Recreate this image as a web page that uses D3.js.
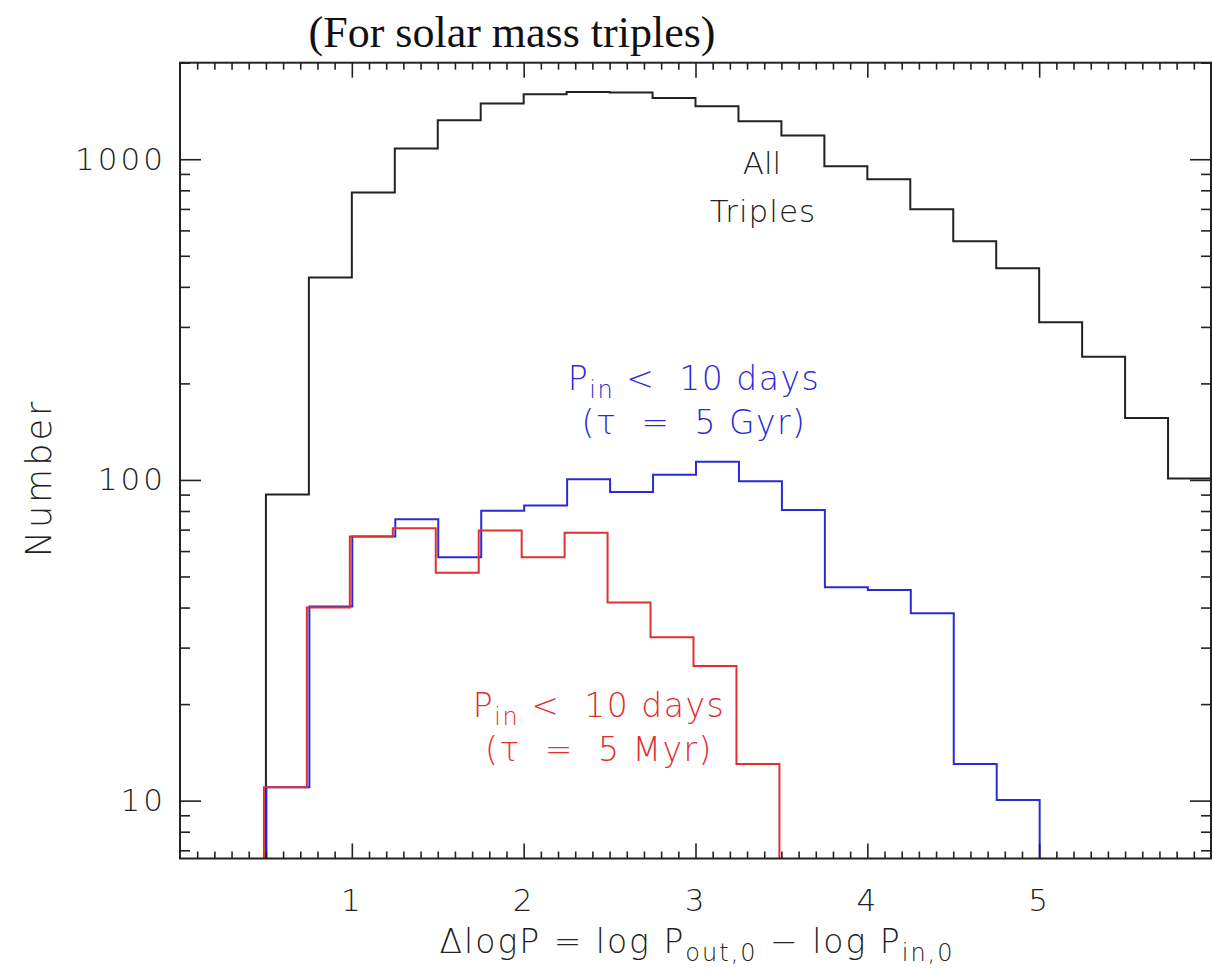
<!DOCTYPE html>
<html>
<head>
<meta charset="utf-8">
<script src="https://cdn.jsdelivr.net/npm/d3@7"></script>
<style>
  body { margin: 0; background: #fff; }
  .lab { font-family: "DejaVu Sans", sans-serif; font-weight: 200; }
</style>
</head>
<body>
<svg id="chart" width="1213" height="971"></svg>
<script>
// bin edges of the histograms (delta log P)
var binEdges = [0.5, 0.75, 1.0, 1.25, 1.5, 1.75, 2.0, 2.25, 2.5, 2.75, 3.0, 3.25,
                3.5, 3.75, 4.0, 4.25, 4.5, 4.75, 5.0, 5.25, 5.5, 5.75, 6.0];

// counts per bin
var allTriples = [90, 428, 787, 1080, 1324, 1492, 1595, 1622, 1614, 1552, 1463,
                  1313, 1186, 951, 866, 698, 555, 457, 310, 242, 156, 101];
var shortGyr = [11, 40.3, 66.6, 75.4, 57.4, 80.2, 83.3, 100.5, 91.7, 103.7, 114,
                99, 80.6, 46.3, 45.4, 38.4, 13, 10.05];
var shortMyr = [11, 40, 66.6, 70.7, 51.4, 69.5, 57.4, 68.5, 41.5, 32.3, 26.3, 13];

var xMajor = [1, 2, 3, 4, 5];
var yMajor = [10, 100, 1000];

// plot frame (don't call these top/left: window.top is read-only)
var pLeft = 180, pRight = 1211, pTop = 62.7, pBottom = 858.5;

var svg = d3.select("#chart");

var x = d3.scaleLinear().domain([0, 6]).range([pLeft, pRight]);
var y = d3.scaleLog().domain([6.6, 2000]).range([pBottom, pTop]);

// minor ticks every 0.1 on x, 2..9 per decade on y
var xMinor = d3.range(1, 60).map(function(i) { return i / 10; })
  .filter(function(v) { return Math.abs(v - Math.round(v)) > 1e-6; });
var yMinor = [];
[1, 10, 100, 1000].forEach(function(d) {
  for (var k = 2; k <= 9; k++) {
    var v = d * k;
    if (v >= 6.6 && v <= 2000) yMinor.push(v);
  }
});

svg.append("defs").append("clipPath").attr("id", "plotclip")
  .append("rect").attr("x", pLeft).attr("y", pTop)
  .attr("width", pRight - pLeft).attr("height", pBottom - pTop);

// step outline from bins: starts and ends on the bottom edge
function stepPoints(vals) {
  var pts = [[binEdges[0], null]];
  vals.forEach(function(v, i) {
    pts.push([binEdges[i], v]);
    pts.push([binEdges[i + 1], v]);
  });
  pts.push([binEdges[vals.length], null]);
  return pts;
}
function makeLine(dx) {
  return d3.line()
    .x(function(d) { return x(d[0]) + dx; })
    .y(function(d) { return d[1] === null ? pBottom + 5 : y(d[1]); });
}

var g = svg.append("g").attr("clip-path", "url(#plotclip)");

g.append("path").datum(stepPoints(allTriples))
  .attr("d", makeLine(0)).attr("fill", "none")
  .attr("stroke", "#222").attr("stroke-width", 2);
g.append("path").datum(stepPoints(shortGyr))
  .attr("d", makeLine(0.5)).attr("fill", "none")
  .attr("stroke", "#2b2bd6").attr("stroke-width", 2);
g.append("path").datum(stepPoints(shortMyr))
  .attr("d", makeLine(-2)).attr("fill", "none")
  .attr("stroke", "#e03030").attr("stroke-width", 2);

// axes with ticks pointing inward on all four sides
function noText(sel) { sel.selectAll("text").remove(); sel.select(".domain").remove(); }

svg.append("g").attr("transform", "translate(0," + pBottom + ")")
  .call(d3.axisBottom(x).tickValues(xMinor).tickSize(-7)).call(noText);
svg.append("g").attr("transform", "translate(0," + pBottom + ")")
  .call(d3.axisBottom(x).tickValues(xMajor).tickSize(-15).tickPadding(30)
    .tickFormat(d3.format("d")))
  .call(function(s) { s.select(".domain").remove(); });
svg.append("g").attr("transform", "translate(0," + pTop + ")")
  .call(d3.axisTop(x).tickValues(xMinor).tickSize(-7)).call(noText);
svg.append("g").attr("transform", "translate(0," + pTop + ")")
  .call(d3.axisTop(x).tickValues(xMajor).tickSize(-15)).call(noText);

svg.append("g").attr("transform", "translate(" + pLeft + ",0)")
  .call(d3.axisLeft(y).tickValues(yMinor).tickSize(-10)).call(noText);
svg.append("g").attr("transform", "translate(" + pLeft + ",0)")
  .call(d3.axisLeft(y).tickValues(yMajor).tickSize(-21).tickPadding(14)
    .tickFormat(d3.format("d")))
  .call(function(s) { s.select(".domain").remove(); });
svg.append("g").attr("transform", "translate(" + pRight + ",0)")
  .call(d3.axisRight(y).tickValues(yMinor).tickSize(-10)).call(noText);
svg.append("g").attr("transform", "translate(" + pRight + ",0)")
  .call(d3.axisRight(y).tickValues(yMajor).tickSize(-21)).call(noText);

svg.selectAll(".tick line").attr("stroke", "#222").attr("stroke-width", 1.6);
svg.selectAll(".tick text").attr("class", "lab").attr("font-size", 31)
  .attr("letter-spacing", 3).attr("fill", "#222");

svg.append("rect").attr("x", pLeft).attr("y", pTop)
  .attr("width", pRight - pLeft).attr("height", pBottom - pTop)
  .attr("fill", "none").attr("stroke", "#222").attr("stroke-width", 2);

// title
svg.append("text").attr("x", 512).attr("y", 47).attr("text-anchor", "middle")
  .attr("font-family", "'Liberation Serif', serif").attr("font-size", 44)
  .attr("fill", "#111").text("(For solar mass triples)");

// y label
svg.append("text").attr("class", "lab")
  .attr("transform", "translate(51,478) rotate(-90)")
  .attr("text-anchor", "middle").attr("font-size", 35).attr("letter-spacing", 3)
  .attr("fill", "#222").text("Number");

// x label
var xl = svg.append("text").attr("class", "lab").attr("x", 697).attr("y", 953)
  .attr("text-anchor", "middle").attr("font-size", 33).attr("letter-spacing", 2)
  .attr("fill", "#222");
xl.append("tspan").text("\u0394logP = log P");
xl.append("tspan").attr("font-size", 24).attr("dy", 8).text("out,0");
xl.append("tspan").attr("dy", -8).text(" \u2212 log P");
xl.append("tspan").attr("font-size", 24).attr("dy", 8).text("in,0");

// annotations
function note(cx, y1, color, line1sub, line2) {
  var t = svg.append("text").attr("class", "lab").attr("x", cx).attr("y", y1)
    .attr("text-anchor", "middle").attr("font-size", 33).attr("letter-spacing", 1.5)
    .attr("fill", color);
  t.append("tspan").text("P");
  t.append("tspan").attr("font-size", 24).attr("dy", 8).text(line1sub);
  t.append("tspan").attr("dy", -8).text("\u00a0<\u00a0\u00a010 days");
  svg.append("text").attr("class", "lab").attr("x", cx).attr("y", y1 + 44)
    .attr("text-anchor", "middle").attr("font-size", 33).attr("letter-spacing", 1.5)
    .attr("fill", color).text(line2);
}
svg.append("text").attr("class", "lab").attr("x", 762).attr("y", 174)
  .attr("text-anchor", "middle").attr("font-size", 31).attr("fill", "#222").text("All");
svg.append("text").attr("class", "lab").attr("x", 763).attr("y", 222)
  .attr("text-anchor", "middle").attr("font-size", 31).attr("letter-spacing", 1)
  .attr("fill", "#222").text("Triples");

note(694, 390, "#2b2bd6", "in", "(\u03c4\u00a0\u00a0=\u00a0\u00a05 Gyr)");
note(599, 717, "#e03030", "in", "(\u03c4\u00a0\u00a0=\u00a0\u00a05 Myr)");
</script>
</body>
</html>
